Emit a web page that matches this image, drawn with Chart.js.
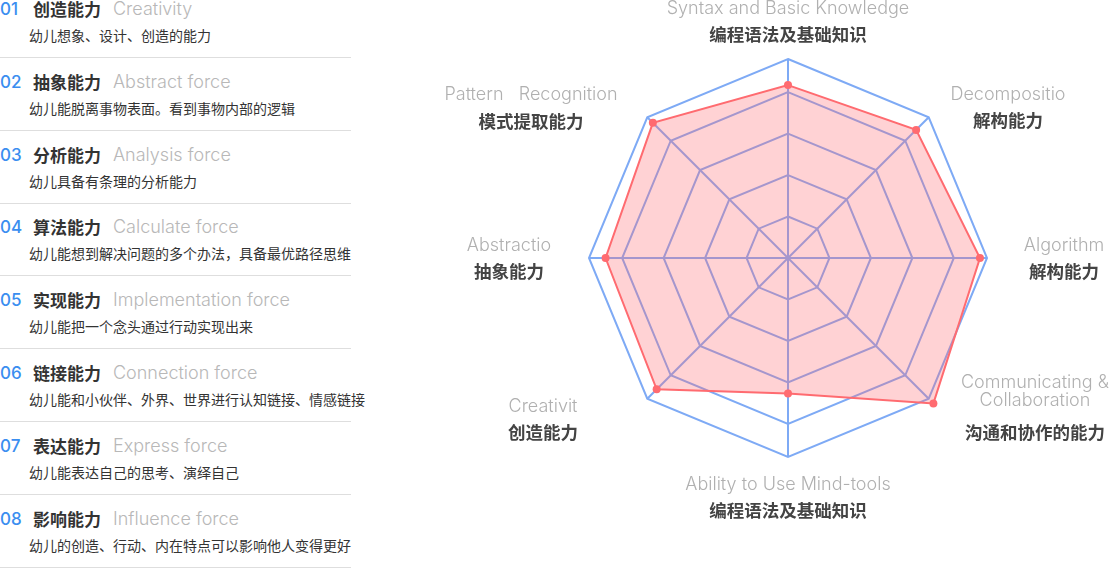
<!DOCTYPE html>
<html>
<head>
<meta charset="utf-8">
<script src="https://cdn.jsdelivr.net/npm/chart.js@4.4.0/dist/chart.umd.min.js"></script>
<style>
  html, body { margin: 0; padding: 0; background: #fff; }
  body { width: 1112px; height: 568px; position: relative; overflow: hidden;
         font-family: "Noto Sans CJK SC", sans-serif; }
  #list { position: absolute; left: 0; top: 0; width: 352px; height: 568px; }
  .item { position: absolute; left: 0; width: 352px; height: 58px; }
  .head { position: absolute; left: 0; top: -1px; height: 20px; line-height: 20px; white-space: nowrap; }
  .num { position: absolute; left: 0; color: #3a8ef0; font-family: Inter, sans-serif; font-size: 17px; font-weight: 500; }
  .name { position: absolute; left: 33px; color: #333; font-size: 17px; font-weight: bold; }
  .en { position: absolute; left: 113px; color: #b8b8b8; font-family: Inter, sans-serif; font-size: 18px; font-weight: 300; }
  .desc { position: absolute; left: 29px; top: 25px; height: 20px; line-height: 20px; color: #333; font-size: 14px; white-space: nowrap; }
  .sep { position: absolute; left: 0; top: 57px; width: 351px; height: 1px; background: #dedede; }
  #chartBox { position: absolute; left: 380px; top: 0; width: 732px; height: 568px; }
</style>
</head>
<body>
<div id="list"></div>
<div id="chartBox"><canvas id="radarChart"></canvas></div>
<script>
// --- lista de la izquierda ---
const abilityNames = ['创造能力', '抽象能力', '分析能力', '算法能力', '实现能力', '链接能力', '表达能力', '影响能力'];
const abilityEn = ['Creativity', 'Abstract force', 'Analysis force', 'Calculate force', 'Implementation force', 'Connection force', 'Express force', 'Influence force'];
const abilityDesc = [
  '幼儿想象、设计、创造的能力',
  '幼儿能脱离事物表面。看到事物内部的逻辑',
  '幼儿具备有条理的分析能力',
  '幼儿能想到解决问题的多个办法，具备最优路径思维',
  '幼儿能把一个念头通过行动实现出来',
  '幼儿能和小伙伴、外界、世界进行认知链接、情感链接',
  '幼儿能表达自己的思考、演绎自己',
  '幼儿的创造、行动、内在特点可以影响他人变得更好'
];

// --- radar ---
const axisEn = ['Syntax and Basic Knowledge', 'Decompositio', 'Algorithm', 'Communicating &\nCollaboration', 'Ability to Use Mind-tools', 'Creativit', 'Abstractio', 'Pattern   Recognition'];
const axisZh = ['编程语法及基础知识', '解构能力', '解构能力', '沟通和协作的能力', '编程语法及基础知识', '创造能力', '抽象能力', '模式提取能力'];
const scores = [4.17, 4.37, 4.63, 4.96, 3.27, 4.48, 4.40, 4.61];
const ringValues = [0, 1, 2, 3, 4, 4.8];

const list = document.getElementById('list');
abilityNames.forEach(function (name, i) {
  const item = document.createElement('div');
  item.className = 'item';
  item.style.top = (i * 72.8) + 'px';
  item.innerHTML =
    '<div class="head"><span class="num">0' + (i + 1) + '</span>' +
    '<span class="name">' + name + '</span>' +
    '<span class="en">' + abilityEn[i] + '</span></div>' +
    '<div class="desc">' + abilityDesc[i] + '</div>' +
    '<div class="sep"></div>';
  list.appendChild(item);
});

// textos de los ejes: inglés gris arriba, chino oscuro abajo
const axisLabelPlugin = {
  id: 'axisLabels',
  afterDraw(chart) {
    const s = chart.scales.r;
    const c = chart.ctx;
    // desplazamiento desde el centro: dx, y de cada línea inglesa, y de la línea china
    const place = [
      [0, [-249], -224],
      [220, [-163], -138],
      [276, [-12], 13],
      [247, [125, 143], 174],
      [0, [227], 252],
      [-245, [149], 174],
      [-279, [-12], 13],
      [-257, [-163], -137]
    ];
    c.save();
    c.textAlign = 'center';
    c.textBaseline = 'middle';
    axisEn.forEach(function (en, i) {
      const p = place[i];
      const x = s.xCenter + p[0];
      c.fillStyle = '#b0b0b0';
      c.font = '300 18px Inter, sans-serif';
      en.split('\n').forEach(function (line, k) {
        c.fillText(line, x, s.yCenter + p[1][k]);
      });
      c.fillStyle = '#444';
      c.font = 'bold 17.5px "Noto Sans CJK SC", sans-serif';
      c.fillText(axisZh[i], x, s.yCenter + p[2]);
    });
    c.restore();
  }
};

const ctx = document.getElementById('radarChart');
new Chart(ctx, {
  type: 'radar',
  data: {
    labels: axisZh,
    datasets: [{
      data: scores,
      borderColor: '#ff6b70',
      backgroundColor: 'rgba(255, 107, 112, 0.3)',
      borderWidth: 2,
      pointRadius: 4,
      pointBorderWidth: 0,
      pointBackgroundColor: '#ff6b70'
    }]
  },
  options: {
    responsive: true,
    maintainAspectRatio: false,
    animation: false,
    layout: { padding: { left: 209, right: 125, top: 59, bottom: 111 } },
    plugins: {
      legend: { display: false },
      tooltip: { enabled: false }
    },
    scales: {
      r: {
        min: 0,
        max: 4.8,
        afterBuildTicks: function (scale) {
          scale.ticks = ringValues.map(function (v) { return { value: v }; });
        },
        ticks: { display: false },
        pointLabels: { display: false },
        grid: { color: '#7eaaf5', lineWidth: 2 },
        angleLines: { color: '#7eaaf5', lineWidth: 2 }
      }
    }
  },
  plugins: [axisLabelPlugin]
});
</script>
</body>
</html>
